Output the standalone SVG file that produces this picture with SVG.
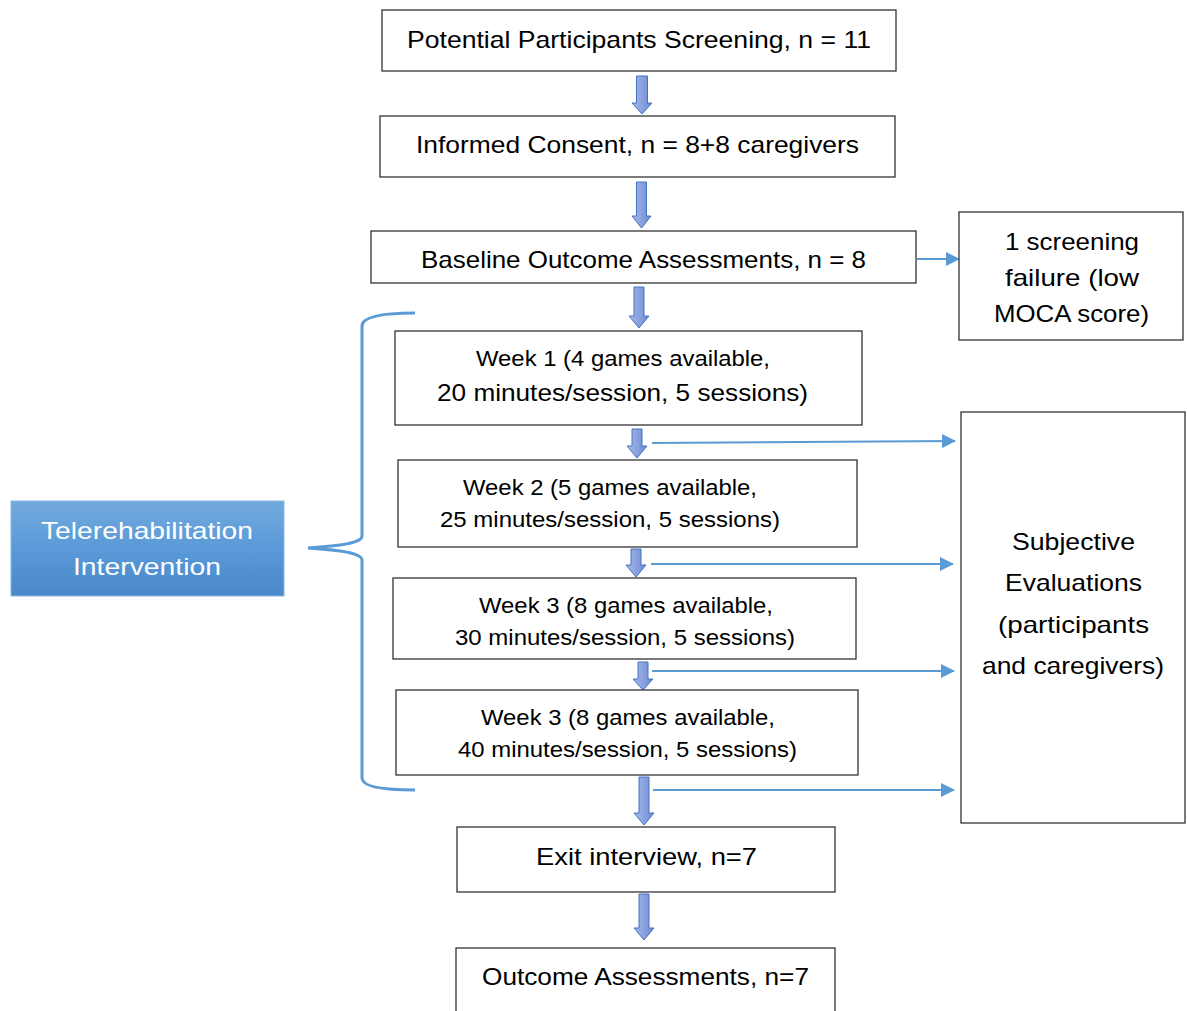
<svg xmlns="http://www.w3.org/2000/svg" width="1187" height="1011" viewBox="0 0 1187 1011">
<style>
.box{fill:#fff;stroke:#333;stroke-width:1.3}
.t{font-family:"Liberation Sans",Arial,sans-serif;font-size:24px;fill:#000;text-anchor:middle}
.s{font-size:22px}
.w{fill:#fff}
.blk{fill:url(#ag);stroke:#4472c4;stroke-width:1}
.ln{stroke:#5b9bd5;stroke-width:2;fill:none;marker-end:url(#tri)}
</style>
<defs>
<linearGradient id="ag" x1="0" y1="0" x2="1" y2="0">
<stop offset="0" stop-color="#a9b9e6"/><stop offset="0.5" stop-color="#8aa2de"/><stop offset="1" stop-color="#6a88d2"/>
</linearGradient>
<linearGradient id="bg" x1="0" y1="0" x2="0" y2="1">
<stop offset="0" stop-color="#72a9dc"/><stop offset="0.5" stop-color="#5a9ad8"/><stop offset="1" stop-color="#4a88c9"/>
</linearGradient>
<marker id="tri" markerWidth="14" markerHeight="14" refX="13" refY="7" orient="auto" markerUnits="userSpaceOnUse" viewBox="0 0 14 14">
<path d="M0,0 L14,7 L0,14 Z" fill="#5b9bd5"/>
</marker>
</defs>

<g id="connectors">
<path class="blk" d="M636.5,76 H647.5 V103 H652 L642,114 L632,103 H636.5 Z"/>
<path class="blk" d="M636.5,182 H646.5 V216 H651 L641.5,228 L632,216 H636.5 Z"/>
<path class="blk" d="M634,287 H644 V316 H649 L639,328 L629,316 H634 Z"/>
<path class="blk" d="M632,429 H642 V446 H647 L637,458 L627,446 H632 Z"/>
<path class="blk" d="M631,549 H641 V565 H646 L636,577 L626,565 H631 Z"/>
<path class="blk" d="M638,662 H648 V679 H653 L643,690 L633,679 H638 Z"/>
<path class="blk" d="M639,777 H649 V813 H654 L644,825 L634,813 H639 Z"/>
<path class="blk" d="M639,894 H649 V928 H654 L644,940 L634,928 H639 Z"/>
<line class="ln" x1="917" y1="259" x2="959" y2="259"/>
<line class="ln" x1="652" y1="443" x2="955" y2="441"/>
<line class="ln" x1="651" y1="564" x2="953" y2="564"/>
<line class="ln" x1="652" y1="671" x2="954" y2="671"/>
<line class="ln" x1="653" y1="790" x2="954" y2="790"/>
<path d="M415,313 C385,313 362,316 362,326 V536 C362,543 340,546 308,548 C340,550 362,553 362,560 V778 C362,787 385,790 415,790" fill="none" stroke="#5b9bd5" stroke-width="3"/>
</g>

<g id="n1"><rect class="box" x="382" y="10" width="514" height="61"/>
<text class="t" x="639" y="48" textLength="464" lengthAdjust="spacingAndGlyphs">Potential Participants Screening, n = 11</text></g>
<g id="n2"><rect class="box" x="380" y="116" width="515" height="61"/>
<text class="t" x="637.5" y="153" textLength="443" lengthAdjust="spacingAndGlyphs">Informed Consent, n = 8+8 caregivers</text></g>
<g id="n3"><rect class="box" x="371" y="231" width="545" height="52"/>
<text class="t" x="643.5" y="268" textLength="445" lengthAdjust="spacingAndGlyphs">Baseline Outcome Assessments, n = 8</text></g>
<g id="n4"><rect class="box" x="959" y="212" width="224" height="128"/>
<text class="t" x="1072" y="250" textLength="134" lengthAdjust="spacingAndGlyphs">1 screening</text>
<text class="t" x="1072" y="286" textLength="134" lengthAdjust="spacingAndGlyphs">failure (low</text>
<text class="t" x="1071.5" y="322" textLength="155" lengthAdjust="spacingAndGlyphs">MOCA score)</text></g>
<g id="n5"><rect class="box" x="395" y="331" width="467" height="94"/>
<text class="t s" x="623" y="366" textLength="294" lengthAdjust="spacingAndGlyphs">Week 1 (4 games available,</text>
<text class="t" x="622.5" y="401" textLength="371" lengthAdjust="spacingAndGlyphs">20 minutes/session, 5 sessions)</text></g>
<g id="n6"><rect class="box" x="398" y="460" width="459" height="87"/>
<text class="t s" x="610" y="495" textLength="294" lengthAdjust="spacingAndGlyphs">Week 2 (5 games available,</text>
<text class="t s" x="610" y="527" textLength="340" lengthAdjust="spacingAndGlyphs">25 minutes/session, 5 sessions)</text></g>
<g id="n7"><rect class="box" x="393" y="578" width="463" height="81"/>
<text class="t s" x="626" y="613" textLength="294" lengthAdjust="spacingAndGlyphs">Week 3 (8 games available,</text>
<text class="t s" x="625" y="645" textLength="340" lengthAdjust="spacingAndGlyphs">30 minutes/session, 5 sessions)</text></g>
<g id="n8"><rect class="box" x="396" y="690" width="462" height="85"/>
<text class="t s" x="628" y="725" textLength="294" lengthAdjust="spacingAndGlyphs">Week 3 (8 games available,</text>
<text class="t s" x="627.5" y="757" textLength="339" lengthAdjust="spacingAndGlyphs">40 minutes/session, 5 sessions)</text></g>
<g id="n9"><rect class="box" x="457" y="827" width="378" height="65"/>
<text class="t" x="646.5" y="865" textLength="221" lengthAdjust="spacingAndGlyphs">Exit interview, n=7</text></g>
<g id="n10"><rect class="box" x="456" y="948" width="379" height="70"/>
<text class="t" x="645.5" y="985" textLength="327" lengthAdjust="spacingAndGlyphs">Outcome Assessments, n=7</text></g>
<g id="n11"><rect class="box" x="961" y="412" width="224" height="411"/>
<text class="t" x="1073.5" y="550" textLength="123" lengthAdjust="spacingAndGlyphs">Subjective</text>
<text class="t" x="1073.5" y="591" textLength="137" lengthAdjust="spacingAndGlyphs">Evaluations</text>
<text class="t" x="1073.5" y="633" textLength="151" lengthAdjust="spacingAndGlyphs">(participants</text>
<text class="t" x="1073" y="674" textLength="182" lengthAdjust="spacingAndGlyphs">and caregivers)</text></g>
<g id="n12"><rect x="11" y="501" width="273" height="95" fill="url(#bg)" stroke="#8bb8e3" stroke-width="1"/>
<text class="t w" x="147" y="539" textLength="212" lengthAdjust="spacingAndGlyphs">Telerehabilitation</text>
<text class="t w" x="147" y="575" textLength="148" lengthAdjust="spacingAndGlyphs">Intervention</text></g>
</svg>
